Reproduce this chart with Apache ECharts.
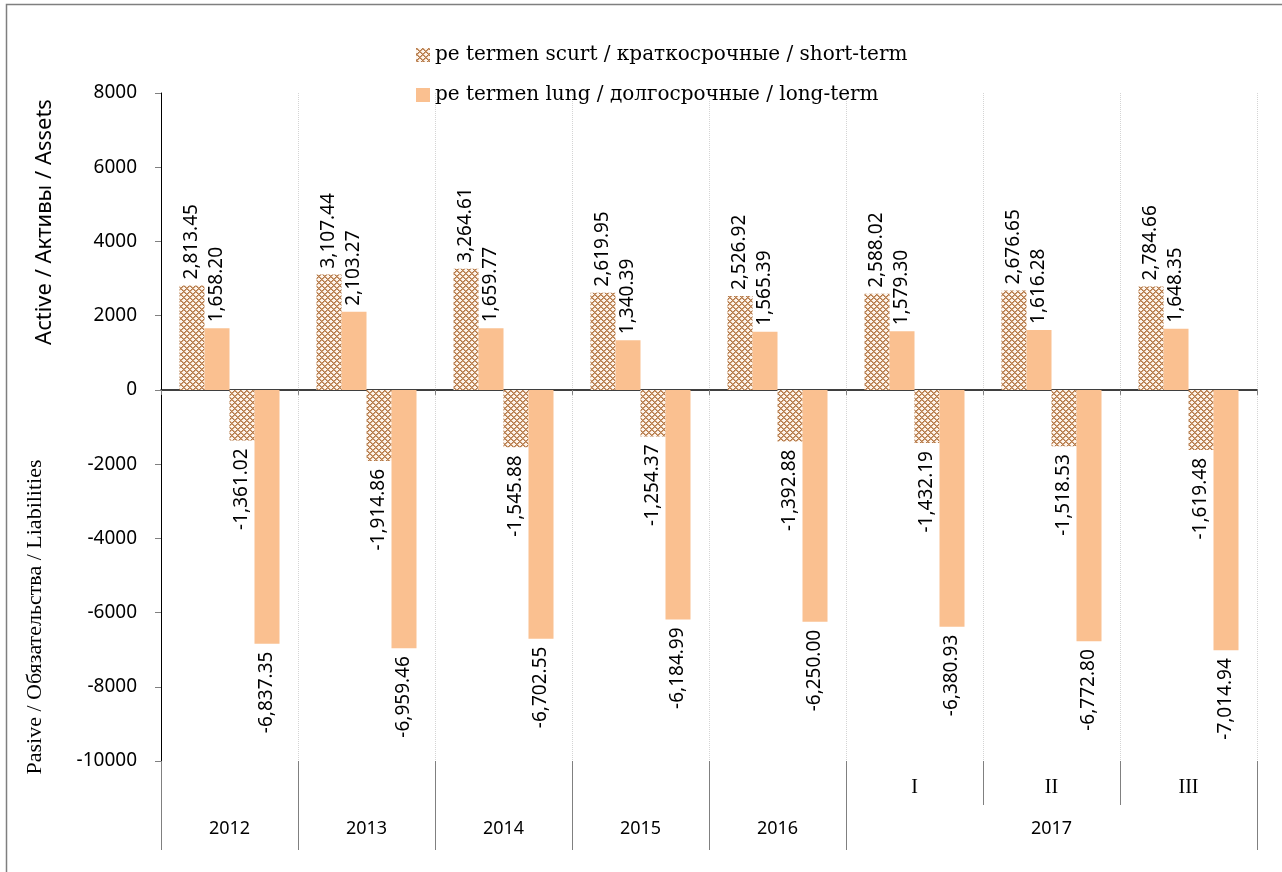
<!DOCTYPE html>
<html>
<head>
<meta charset="utf-8">
<title>Active / Pasive</title>
<script src="https://cdn.jsdelivr.net/npm/echarts@6/dist/echarts.min.js"></script>
<style>
  html, body { margin: 0; padding: 0; background: #fff; }
  #chart { width: 1282px; height: 872px; }
</style>
</head>
<body>
<div id="chart"></div>
<script>
// Periods on the horizontal axis
const categories = ['2012', '2013', '2014', '2015', '2016', '2017 I', '2017 II', '2017 III'];
// Lower label rows: quarter row, then year row (year, number of periods it spans)
const periodLabels = ['', '', '', '', '', 'I', 'II', 'III'];
const yearGroups = [['2012', 1], ['2013', 1], ['2014', 1], ['2015', 1], ['2016', 1], ['2017', 3]];

// Assets (positive) and liabilities (negative)
const assetsShort = [2813.45, 3107.44, 3264.61, 2619.95, 2526.92, 2588.02, 2676.65, 2784.66];
const assetsLong = [1658.20, 2103.27, 1659.77, 1340.39, 1565.39, 1579.30, 1616.28, 1648.35];
const liabShort = [-1361.02, -1914.86, -1545.88, -1254.37, -1392.88, -1432.19, -1518.53, -1619.48];
const liabLong = [-6837.35, -6959.46, -6702.55, -6184.99, -6250.00, -6380.93, -6772.80, -7014.94];

const nameShort = 'pe termen scurt / краткосрочные / short-term';
const nameLong = 'pe termen lung / долгосрочные / long-term';
const titleAssets = 'Active / Активы / Assets';
const titleLiab = 'Pasive / Обязательства / Liabilities';

// Year row boundaries and label centres, derived from the group spans
const yearBounds = [0];
const yearCenters = [];
yearGroups.forEach(([, n]) => {
  const start = yearBounds[yearBounds.length - 1];
  yearCenters.push(start + n / 2);
  yearBounds.push(start + n);
});
const periodBounds = categories.map((_, i) => i).concat([categories.length]);
const periodCenters = [];
periodLabels.forEach((l, i) => { if (l) periodCenters.push(i + 0.5); });

// Cross-hatched fill for the short-term bars
function hatchPattern() {
  const c = document.createElement('canvas');
  c.width = 6; c.height = 6;
  const ctx = c.getContext('2d');
  for (let x = 0; x < 6; x++) {
    for (let y = 0; y < 6; y++) {
      const d1 = (x + y) % 6;
      const d2 = ((x - y) % 6 + 6) % 6;
      if (d1 === 0 || d2 === 0) ctx.fillStyle = '#b07a4c';
      else if (d1 === 1 || d2 === 1) ctx.fillStyle = '#d3a27a';
      else ctx.fillStyle = '#fdf4ec';
      ctx.fillRect(x, y, 1, 1);
    }
  }
  return { image: c, repeat: 'repeat' };
}
const hatch = hatchPattern();
const peach = '#fac090';

const labelFont = { fontFamily: 'Noto Sans', fontSize: 19, color: '#000' };
const fmt = p => p.value.toLocaleString('en-US', { minimumFractionDigits: 2, maximumFractionDigits: 2 });
const posLabel = Object.assign({ show: true, position: 'top', rotate: 90, align: 'left', verticalAlign: 'middle', distance: 6, formatter: fmt }, labelFont);
const negLabel = Object.assign({ show: true, position: 'bottom', rotate: 90, align: 'right', verticalAlign: 'middle', distance: 8, formatter: fmt }, labelFont);

function bar(name, data, color, label) {
  return {
    name, type: 'bar', data, xAxisIndex: 0, yAxisIndex: 0,
    barWidth: 25, barGap: '0%',
    itemStyle: { color },
    label, emphasis: { disabled: true }
  };
}

const chart = echarts.init(document.getElementById('chart'), null, { renderer: 'canvas' });
chart.setOption({
  animation: false,
  backgroundColor: '#fff',
  legend: {
    data: [nameShort, nameLong],
    orient: 'vertical',
    left: 411, top: 40,
    itemWidth: 14, itemHeight: 14, itemGap: 20,
    icon: 'rect',
    textStyle: { fontFamily: 'DejaVu Serif', fontSize: 20, color: '#000' }
  },
  grid: { left: 161, right: 25, top: 93, bottom: 111, containLabel: false },
  xAxis: [
    {
      type: 'category', data: categories,
      axisLine: { onZero: true, lineStyle: { color: '#000', width: 1.5 } },
      axisTick: { show: true, length: 5, lineStyle: { color: '#808080' } },
      axisLabel: { show: false },
      splitLine: { show: true, interval: 0, lineStyle: { color: '#d4d4d4', type: 'dotted' } }
    },
    {
      type: 'value', min: 0, max: categories.length, position: 'bottom', offset: 0,
      axisLine: { show: false }, splitLine: { show: false },
      axisTick: { show: true, length: 44, customValues: periodBounds, lineStyle: { color: '#808080' } },
      axisLabel: {
        show: true, customValues: periodCenters, margin: 17,
        fontFamily: 'Liberation Serif', fontSize: 20, color: '#000',
        formatter: v => periodLabels[Math.floor(v)]
      }
    },
    {
      type: 'value', min: 0, max: categories.length, position: 'bottom', offset: 44,
      axisLine: { show: false }, splitLine: { show: false },
      axisTick: { show: true, length: 45, customValues: yearBounds, lineStyle: { color: '#808080' } },
      axisLabel: {
        show: true, customValues: yearCenters, margin: 15,
        fontFamily: 'Noto Sans', fontSize: 18, color: '#000',
        formatter: v => {
          const i = yearCenters.findIndex(c => Math.abs(c - v) < 1e-6);
          return i >= 0 ? yearGroups[i][0] : '';
        }
      }
    }
  ],
  yAxis: {
    type: 'value', min: -10000, max: 8000, interval: 2000,
    axisLine: { show: true, lineStyle: { color: '#000', width: 1 } },
    axisTick: { show: true, length: 6, lineStyle: { color: '#808080' } },
    axisLabel: { margin: 24, fontFamily: 'Noto Sans', fontSize: 19, color: '#000', formatter: v => String(v) },
    splitLine: { show: false }
  },
  series: [
    bar(nameShort, assetsShort, hatch, posLabel),
    bar(nameLong, assetsLong, peach, posLabel),
    bar(nameShort, liabShort, hatch, negLabel),
    bar(nameLong, liabLong, peach, negLabel)
  ],
  graphic: [
    {
      type: 'rect', silent: true, z: -1,
      shape: { x: 6.5, y: 4.5, width: 1400, height: 1000 },
      style: { fill: 'none', stroke: '#7f7f7f', lineWidth: 1.5 }
    },
    {
      type: 'text', x: 45, y: 222, rotation: Math.PI / 2,
      style: { text: titleAssets, fontFamily: 'Noto Sans', fontSize: 22, fill: '#000', textAlign: 'center', textVerticalAlign: 'middle' }
    },
    {
      type: 'text', x: 35, y: 617, rotation: Math.PI / 2,
      style: { text: titleLiab, fontFamily: 'Liberation Serif', fontSize: 22, fill: '#000', textAlign: 'center', textVerticalAlign: 'middle' }
    }
  ]
});
</script>
</body>
</html>
